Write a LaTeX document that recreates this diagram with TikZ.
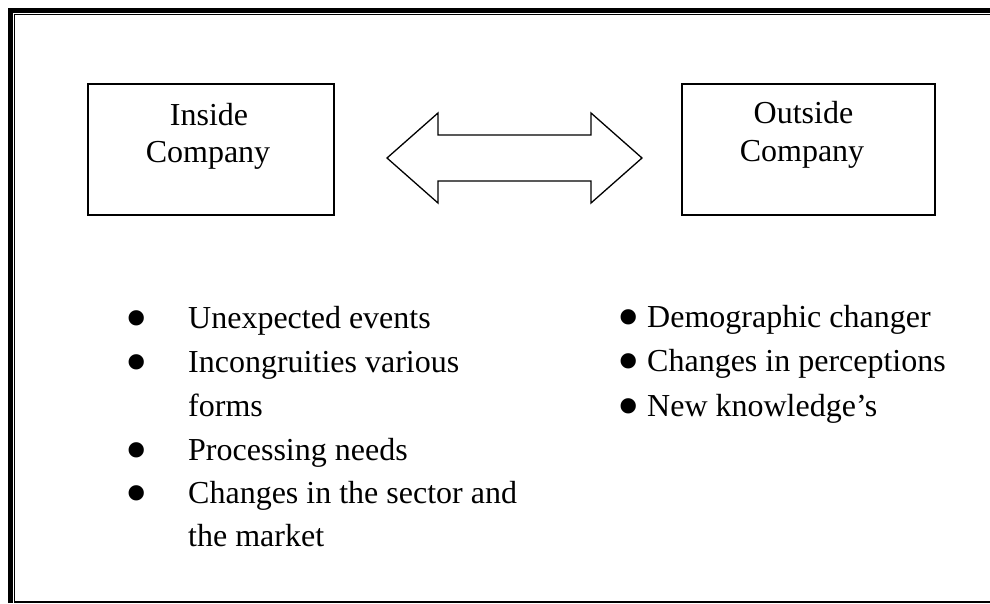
\documentclass[tikz,border=0pt]{standalone}
\usepackage{fontspec}
\setmainfont{Liberation Serif}
\begin{document}
\begin{tikzpicture}[x=1pt,y=-1pt,
  txt/.style={inner sep=0pt,font=\fontsize{32}{37}\selectfont},
  boxnode/.style={draw,line width=1.5pt,minimum width=#1,minimum height=131pt,inner sep=0pt},
  itemtxt/.style={txt,anchor=base west},
  bul/.style={inner sep=0pt,anchor=base,font=\fontsize{64}{64}\selectfont,text height=26pt,text depth=0pt,yshift=-11pt}]
\useasboundingbox (0,0) rectangle (990,603);
% page border
\draw[line width=5pt] (10,603) -- (10,10) -- (990,10);
\draw[line width=1.2pt] (14.5,603) -- (14.5,14.5) -- (990,14.5);
\draw[line width=1.5pt] (14.5,602) -- (990,602);
% boxes
\node[boxnode=246pt] (inside) at (211,149.5) {};
\node[boxnode=253pt] (outside) at (808.5,149.5) {};
\node[txt,anchor=base] (in1) at (209,125) {Inside};
\node[txt,anchor=base] (in2) at (208,162) {Company};
\node[txt,anchor=base] (out1) at (803.5,123) {Outside};
\node[txt,anchor=base] (out2) at (802,161) {Company};
% double block arrow
\coordinate (ltip) at (387,158);
\coordinate (rtip) at (642,158);
\draw[line width=1.3pt,line join=miter]
  (ltip) -- (438,113) -- (438,135) -- (591,135) -- (591,113) -- (rtip)
  -- (591,203) -- (591,181) -- (438,181) -- (438,203) -- cycle;
% left list
\node[bul] (b1) at (137,328) {•};
\node[itemtxt] (t1) at (188,328) {Unexpected events};
\node[bul] (b2) at (137,372) {•};
\node[itemtxt] (t2) at (188,372) {Incongruities various};
\node[itemtxt] (t2b) at (188,416) {forms};
\node[bul] (b3) at (137,460) {•};
\node[itemtxt] (t3) at (188,460) {Processing needs};
\node[bul] (b4) at (137,503) {•};
\node[itemtxt] (t4) at (188,503) {Changes in the sector and};
\node[itemtxt] (t4b) at (188,546) {the market};
% right list
\node[bul] (r1b) at (629,327) {•};
\node[itemtxt] (r1) at (647,327) {Demographic changer};
\node[bul] (r2b) at (629,371) {•};
\node[itemtxt] (r2) at (647,371) {Changes in perceptions};
\node[bul] (r3b) at (629,416) {•};
\node[itemtxt] (r3) at (647,416) {New knowledge’s};
\end{tikzpicture}
\end{document}
